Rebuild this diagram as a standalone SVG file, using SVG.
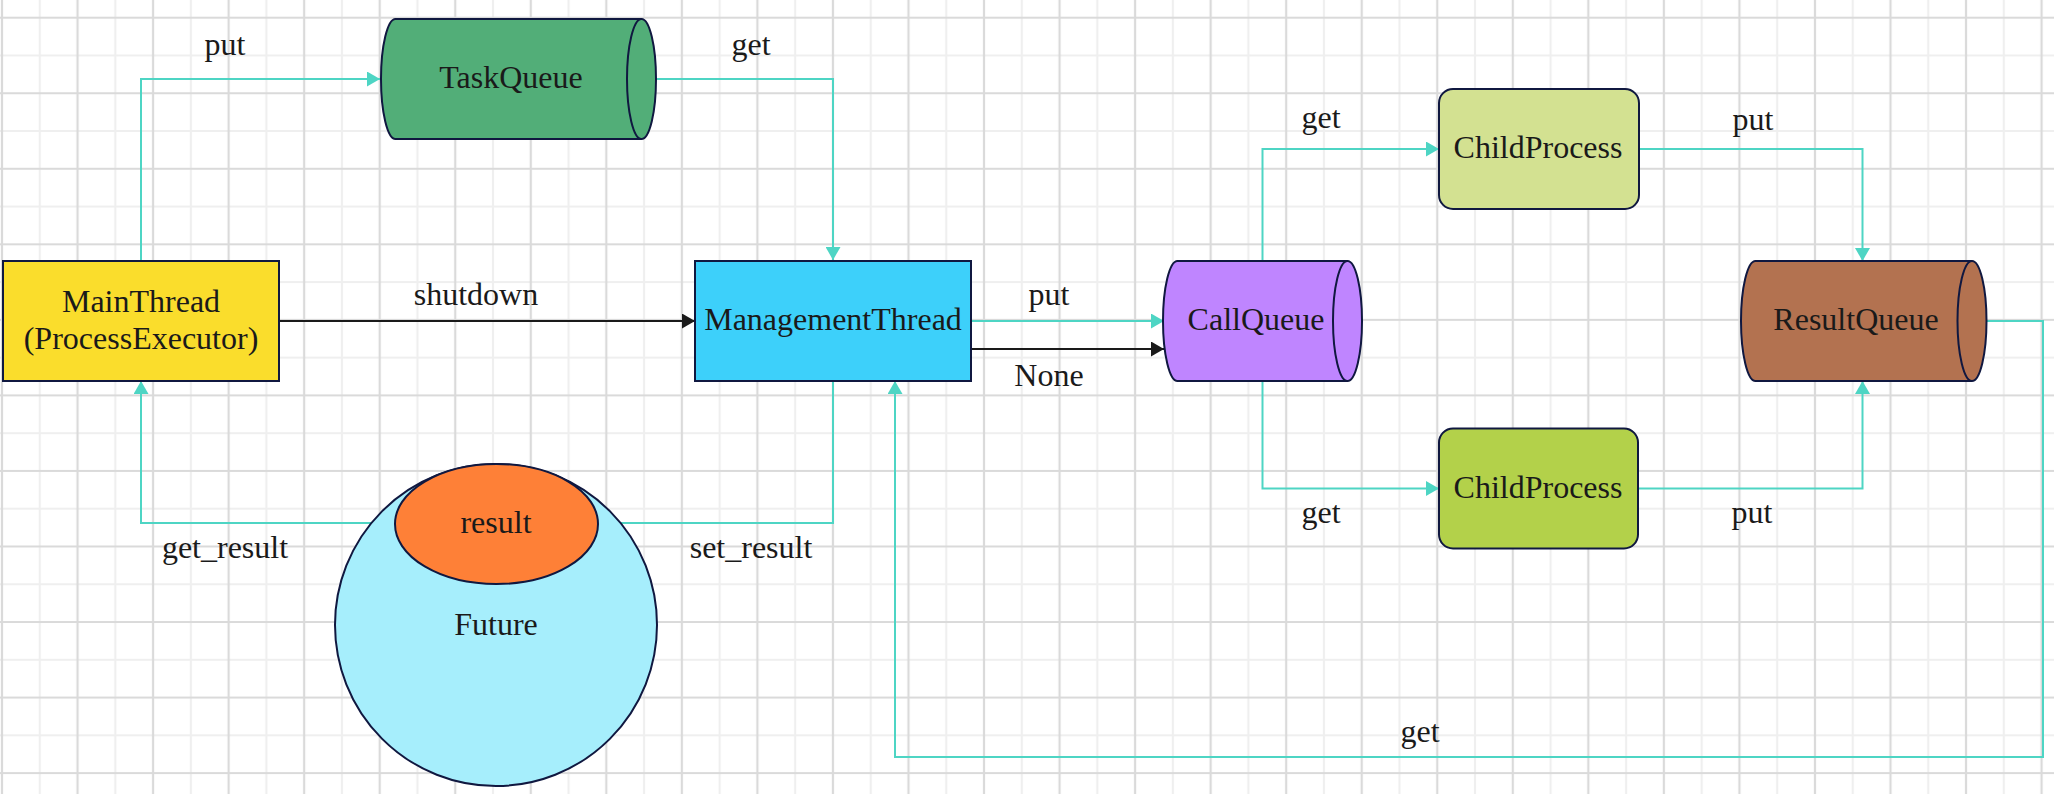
<svg xmlns="http://www.w3.org/2000/svg" width="2054" height="794" viewBox="0 0 2054 794">
<style>
.t{font-family:"Liberation Serif","Times New Roman",serif;font-size:32px;fill:#1a1a1a;text-anchor:middle}
.n{stroke:#101840;stroke-width:2}
.c{fill:none;stroke:#4ED5C4;stroke-width:2}
.k{fill:none;stroke:#1a1a1a;stroke-width:2}
</style>
<defs>
<pattern id="grid" x="-16.885" y="-1.185" width="75.54" height="75.54" patternUnits="userSpaceOnUse">
<path d="M56.655,0V75.54M0,56.655H75.54" stroke="#EFEFEF" stroke-width="2.2" fill="none"/>
<path d="M18.885,0V75.54M0,18.885H75.54" stroke="#DADADA" stroke-width="2.2" fill="none"/>
</pattern>
<marker id="at" markerUnits="userSpaceOnUse" markerWidth="14" markerHeight="15" refX="13" refY="7.5" orient="auto" viewBox="0 0 14 15">
<path d="M0,0L13,7.5L0,15z" fill="#4ED5C4"/>
</marker>
<marker id="ab" markerUnits="userSpaceOnUse" markerWidth="14" markerHeight="15" refX="13" refY="7.5" orient="auto" viewBox="0 0 14 15">
<path d="M0,0L13,7.5L0,15z" fill="#1a1a1a"/>
</marker>
</defs>
<rect width="2054" height="794" fill="#FFFFFF"/>
<rect width="2054" height="794" fill="url(#grid)"/>

<g id="connectors">
<path class="c" d="M141,261V79H380" marker-end="url(#at)"/>
<path class="c" d="M656,79H833V260" marker-end="url(#at)"/>
<path class="k" d="M279,321H695" marker-end="url(#ab)"/>
<path class="c" d="M971,321H1164" marker-end="url(#at)"/>
<path class="k" d="M971,349H1164" marker-end="url(#ab)"/>
<path class="c" d="M1262.5,261V149H1439" marker-end="url(#at)"/>
<path class="c" d="M1639,149H1862.5V261" marker-end="url(#at)"/>
<path class="c" d="M1262.5,381V488.5H1439" marker-end="url(#at)"/>
<path class="c" d="M1638,488.5H1862.5V381" marker-end="url(#at)"/>
<path class="c" d="M1986.5,321H2043V757H895V381" marker-end="url(#at)"/>
<path class="c" d="M833,381V523H598" marker-end="url(#at)"/>
<path class="c" d="M395,523H141V381" marker-end="url(#at)"/>
<text class="t" x="225" y="55">put</text>
<text class="t" x="751" y="55">get</text>
<text class="t" x="476" y="305">shutdown</text>
<text class="t" x="1049" y="305">put</text>
<text class="t" x="1049" y="386">None</text>
<text class="t" x="1321" y="128">get</text>
<text class="t" x="1753" y="130">put</text>
<text class="t" x="1321" y="523">get</text>
<text class="t" x="1752" y="523">put</text>
<text class="t" x="1420" y="742">get</text>
<text class="t" x="225" y="558">get_result</text>
<text class="t" x="751" y="558">set_result</text>
</g>

<g id="mainthread">
<rect class="n" x="3" y="261" width="276" height="120" fill="#FADD2C"/>
<text class="t" x="141" y="312">MainThread</text>
<text class="t" x="141" y="349">(ProcessExecutor)</text>
</g>

<g id="taskqueue">
<path class="n" fill="#52AE78" d="M395.5,19H641.5A14.5,60 0 0 1 641.5,139H395.5A14.5,60 0 0 1 395.5,19Z"/>
<path class="n" fill="none" d="M641.5,19A14.5,60 0 0 0 641.5,139"/>
<text class="t" x="511" y="88">TaskQueue</text>
</g>

<g id="managementthread">
<rect class="n" x="695" y="261" width="276" height="120" fill="#3DD0FA"/>
<text class="t" x="833" y="330">ManagementThread</text>
</g>

<g id="callqueue">
<path class="n" fill="#BF85FF" d="M1177.5,261H1347.5A14.5,60 0 0 1 1347.5,381H1177.5A14.5,60 0 0 1 1177.5,261Z"/>
<path class="n" fill="none" d="M1347.5,261A14.5,60 0 0 0 1347.5,381"/>
<text class="t" x="1256" y="330">CallQueue</text>
</g>

<g id="childprocess1">
<rect class="n" x="1439" y="89" width="200" height="120" rx="14" fill="#D3E191"/>
<text class="t" x="1538" y="158">ChildProcess</text>
</g>

<g id="childprocess2">
<rect class="n" x="1439" y="428.5" width="199" height="120" rx="14" fill="#B3D14A"/>
<text class="t" x="1538" y="498">ChildProcess</text>
</g>

<g id="resultqueue">
<path class="n" fill="#B37250" d="M1755.5,261H1972A14.5,60 0 0 1 1972,381H1755.5A14.5,60 0 0 1 1755.5,261Z"/>
<path class="n" fill="none" d="M1972,261A14.5,60 0 0 0 1972,381"/>
<text class="t" x="1856" y="330">ResultQueue</text>
</g>

<g id="future">
<circle class="n" cx="496" cy="625" r="161" fill="#A6EEFC"/>
<text class="t" x="496" y="635">Future</text>
</g>

<g id="result">
<ellipse class="n" cx="496.5" cy="524" rx="101.5" ry="60" fill="#FE8037"/>
<text class="t" x="496" y="533">result</text>
</g>
</svg>
